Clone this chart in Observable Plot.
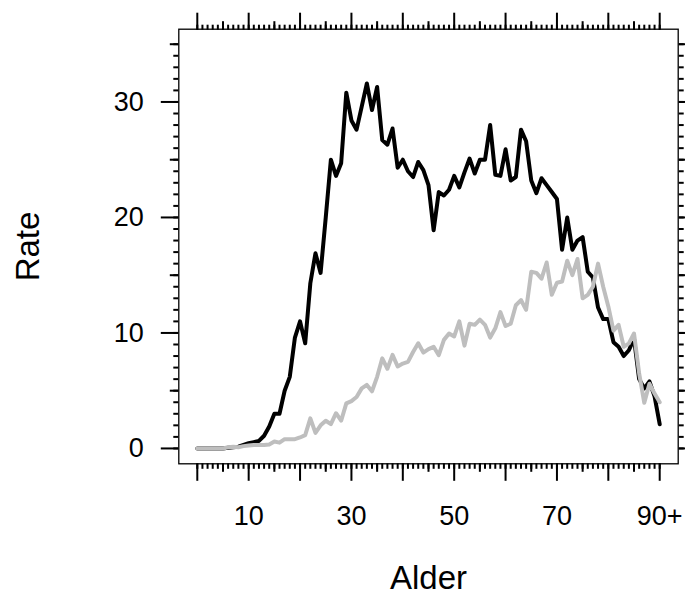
<!DOCTYPE html>
<html>
<head>
<meta charset="utf-8">
<script src="https://cdn.jsdelivr.net/npm/d3@7"></script>
<script src="https://cdn.jsdelivr.net/npm/@observablehq/plot@0.6"></script>
<style>
  body { margin: 0; background: #fff; }
  #chart svg { display: block; }
</style>
</head>
<body>
<div id="chart"></div>
<script>
// Ages (x categories): 0 ... 90 (90 = "90+")
const ages = [0,1,2,3,4,5,6,7,8,9,10,11,12,13,14,15,16,17,18,19,20,21,22,23,24,25,26,27,28,29,
  30,31,32,33,34,35,36,37,38,39,40,41,42,43,44,45,46,47,48,49,50,51,52,53,54,55,56,57,58,59,
  60,61,62,63,64,65,66,67,68,69,70,71,72,73,74,75,76,77,78,79,80,81,82,83,84,85,86,87,88,89,90];

// Black series
const rateBlack = [0,0,0,0,0,0,0.05,0.1,0.15,0.3,0.45,0.55,0.65,1.1,1.9,3.0,3.0,5.0,6.2,9.6,
  11.0,9.1,14.3,16.9,15.2,20.0,25.0,23.6,24.7,30.8,28.4,27.6,29.6,31.6,29.3,31.3,26.7,26.3,27.7,24.3,
  25.0,24.0,23.5,24.8,24.1,22.8,18.9,22.2,21.9,22.4,23.6,22.6,23.9,25.1,23.8,25.0,25.0,28.0,23.7,23.6,
  25.9,23.2,23.5,27.6,26.6,23.2,22.1,23.4,22.8,22.2,21.6,17.2,20.0,17.2,18.0,18.3,15.3,14.8,12.2,11.2,
  11.2,9.2,8.8,8.0,8.5,9.5,6.0,5.2,5.8,4.5,2.1];

// Grey series
const rateGrey = [0,0,0,0,0,0,0.1,0.15,0.1,0.2,0.25,0.3,0.3,0.3,0.35,0.6,0.5,0.8,0.8,0.8,
  0.95,1.15,2.6,1.35,2.0,2.4,2.1,3.05,2.4,3.9,4.1,4.45,5.2,5.5,4.95,6.2,7.8,6.9,8.1,7.1,
  7.35,7.5,8.35,9.1,8.3,8.6,8.8,8.07,9.4,9.95,9.7,11.0,8.9,10.8,10.7,11.15,10.7,9.6,10.4,11.8,
  10.6,10.8,12.4,12.85,12.0,15.3,15.2,14.7,16.1,13.3,14.35,14.45,16.25,15.0,16.4,13.0,13.3,14.0,16.0,14.0,
  12.3,10.2,10.7,8.8,9.1,9.95,6.5,3.95,5.6,4.75,4.0];

// Tick labels
const xLabelTicks = [10, 30, 50, 70, 90];
const xLabelText = ["10", "30", "50", "70", "90+"];
const yLabelTicks = [0, 10, 20, 30];

const xMajor = d3.range(0, 91, 10);
const xMedium = d3.range(5, 91, 10);
const xMinor = d3.range(0, 91, 1);
const yMajor = d3.range(0, 36, 10);
const yMedium = d3.range(5, 36, 10);
const yMinor = d3.range(0, 36, 1);

const dataBlack = ages.map((a, i) => ({age: a, rate: rateBlack[i]}));
const dataGrey = ages.map((a, i) => ({age: a, rate: rateGrey[i]}));

const tk = {tickFormat: () => "", label: null, strokeWidth: 2};

const plot = Plot.plot({
  width: 685,
  height: 594,
  marginLeft: 178.3,
  marginRight: 7.3,
  marginTop: 28.7,
  marginBottom: 130.7,
  style: {fontFamily: "'Liberation Sans', Arial, Helvetica, sans-serif", fontSize: "27px", color: "#000", background: "#fff"},
  x: {domain: [-3.6, 93.6]},
  y: {domain: [-1.33, 36.3]},
  marks: [
    // bottom ticks
    Plot.axisX(xMajor, {anchor: "bottom", tickSize: 17.5, ...tk}),
    Plot.axisX(xMedium, {anchor: "bottom", tickSize: 8.5, ...tk}),
    Plot.axisX(xMinor, {anchor: "bottom", tickSize: 5.5, ...tk}),
    // top ticks
    Plot.axisX(xMajor, {anchor: "top", tickSize: 17, ...tk}),
    Plot.axisX(xMedium, {anchor: "top", tickSize: 8.5, ...tk}),
    Plot.axisX(xMinor, {anchor: "top", tickSize: 5, ...tk}),
    // left ticks
    Plot.axisY(yMajor, {anchor: "left", tickSize: 17.5, ...tk}),
    Plot.axisY(yMedium, {anchor: "left", tickSize: 8.5, ...tk}),
    Plot.axisY(yMinor, {anchor: "left", tickSize: 5, ...tk}),
    // right ticks
    Plot.axisY(yMajor, {anchor: "right", tickSize: 17.5, ...tk}),
    Plot.axisY(yMedium, {anchor: "right", tickSize: 8.5, ...tk}),
    Plot.axisY(yMinor, {anchor: "right", tickSize: 5, ...tk}),
    // labels
    Plot.axisX(xLabelTicks, {
      anchor: "bottom", tickSize: 0, tickPadding: 41.7, fontSize: 27,
      tickFormat: (d) => xLabelText[xLabelTicks.indexOf(d)],
      label: "Alder", labelAnchor: "center", labelOffset: 124.7, labelArrow: "none"
    }),
    Plot.axisY(yLabelTicks, {
      anchor: "left", tickSize: 0, tickPadding: 35, fontSize: 27,
      label: "Rate", labelAnchor: "center", labelOffset: 163.3, labelArrow: "none"
    }),
    Plot.frame({stroke: "#000", strokeWidth: 1.3}),
    Plot.line(dataBlack, {x: "age", y: "rate", stroke: "#000", strokeWidth: 4, strokeLinejoin: "round", strokeLinecap: "round"}),
    Plot.line(dataGrey, {x: "age", y: "rate", stroke: "#bebebe", strokeWidth: 4, strokeLinejoin: "round", strokeLinecap: "round"})
  ]
});

// enlarge axis titles
plot.querySelectorAll("[aria-label='x-axis label'], [aria-label='y-axis label']").forEach(g => {
  g.setAttribute("font-size", "33");
  g.querySelectorAll("text").forEach(t => t.setAttribute("font-size", "33"));
});
document.getElementById("chart").appendChild(plot);
</script>
</body>
</html>
